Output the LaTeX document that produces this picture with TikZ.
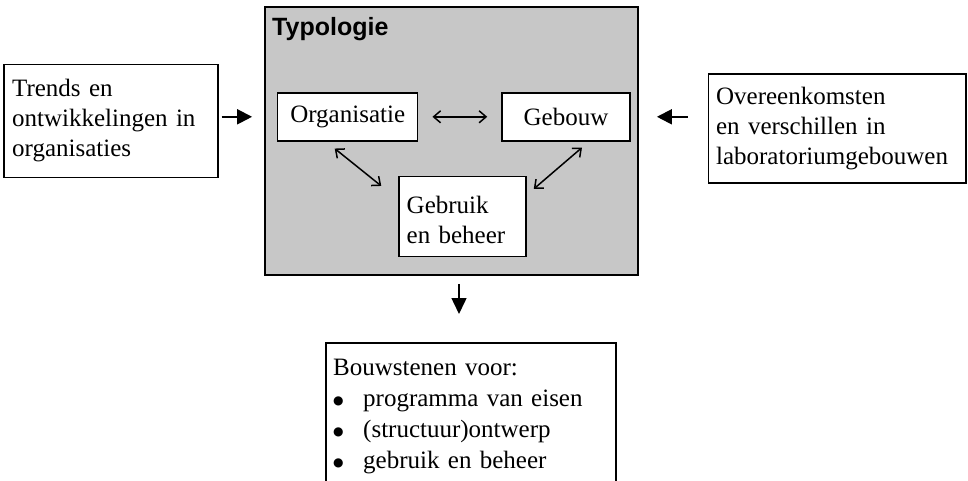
\documentclass[tikz,border=0pt]{standalone}
\usepackage{fontspec}
\setmainfont{Liberation Serif}
\newfontfamily\headfont{Liberation Sans}
\newfontfamily\symfont{DejaVu Sans}
\newcommand{\bul}{\makebox[30pt][l]{\raisebox{2.5pt}{\symfont\fontsize{12}{12}\selectfont ●}}}
\usetikzlibrary{arrows.meta}
\begin{document}
\begin{tikzpicture}[x=1pt,y=-1pt,
  txt/.style={font=\fontsize{25}{30}\selectfont},
  box/.style={txt, draw, line width=1.5pt, fill=white, inner ysep=0pt},
  thickarrow/.style={line width=2pt, -{Triangle[length=15pt,width=15pt]}},
  dbl/.style={line width=1.5pt, {Straight Barb[length=7pt,width=12pt]}-{Straight Barb[length=7pt,width=12pt]}}
]
\useasboundingbox (0,0) rectangle (968,481);
% main typology box
\node (typ) [draw, line width=1.8pt, fill=black!22, minimum width=373pt, minimum height=268pt, inner sep=0pt] at (451.5,141) {};
\node (typlabel) [font=\headfont\bfseries\fontsize{25}{29}\selectfont, anchor=base west, inner sep=0pt] at (272,36) {Typologie};
% inner boxes
\node (org) [box, minimum width=140pt, minimum height=48pt, inner xsep=0pt] at (347.7,116.8) {Organisatie};
\node (geb) [box, minimum width=128pt, minimum height=48pt, inner xsep=0pt] at (566,116.8) {Gebouw};
\node (gebr) [box, minimum width=127pt, minimum height=80pt, text width=111.6pt, inner xsep=7.7pt, align=left] at (462.5,216.7) {\rule{0pt}{24pt}Gebruik\\en beheer};
% side boxes
\node (left) [box, minimum width=213.7pt, minimum height=113.4pt, text width=197.7pt, inner xsep=8pt, align=left] at (111,121) {Trends en\\ontwikkelingen in\\organisaties};
\node (right) [box, minimum width=257.4pt, minimum height=108.7pt, text width=242.4pt, inner xsep=7.5pt, align=left] at (837.3,128.4) {Overeenkomsten\\en verschillen in\\laboratoriumgebouwen};
% bottom box
\node (bot) [draw, line width=1.5pt, anchor=north west, minimum width=290pt, minimum height=170pt, inner sep=0pt] at (325,342) {};
\node (bottxt) [font=\fontsize{25}{31}\selectfont, anchor=north west, text width=274pt, align=left, inner sep=0pt] at (333,359) {Bouwstenen voor:\\\bul programma van eisen\\\bul (structuur)ontwerp\\\bul gebruik en beheer};
% connectors
\draw[thickarrow, shorten <=3pt, shorten >=12pt] (left.east |- org.center) -- (typ.west |- org.center);
\draw[thickarrow, shorten <=20pt, shorten >=18pt] (right.west |- org.center) -- (typ.east |- org.center);
\coordinate (dn) at (459,0);
\draw[line width=1.5pt, -{Triangle[length=16pt,width=15pt]}, shorten <=8pt, shorten >=28pt] (typ.south -| dn) -- (bot.north -| dn);
\draw[dbl, shorten <=14pt, shorten >=14pt] (org.east) -- (geb.west);
\draw[dbl] ([shift={(-13,7)}]org.south) -- ([shift={(-17,10)}]gebr.north west);
\draw[dbl] ([shift={(16,6)}]geb.south) -- ([shift={(7,13)}]gebr.north east);
\end{tikzpicture}
\end{document}
